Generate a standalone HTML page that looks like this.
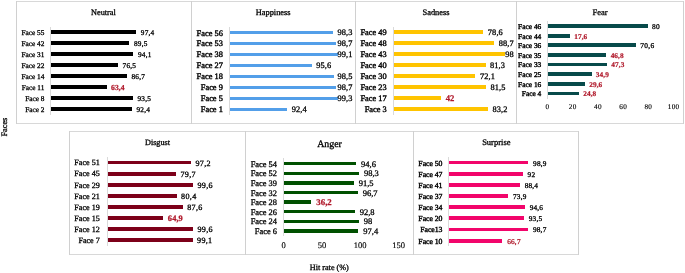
<!DOCTYPE html>
<html><head><meta charset="utf-8"><style>
html,body{margin:0;padding:0;background:#fff;}
body{width:685px;height:273px;position:relative;overflow:hidden;font-family:"Liberation Serif", serif;}
div{position:absolute;}
.t{position:absolute;line-height:1;white-space:nowrap;color:#000;text-rendering:geometricPrecision;}
#w{position:absolute;left:0;top:0;width:685px;height:273px;will-change:transform;}
</style></head><body><div id="w">
<div style="left:16px;top:1px;width:668px;height:1px;background:#d8d8d8"></div>
<div style="left:16px;top:123px;width:668px;height:1px;background:#d8d8d8"></div>
<div style="left:16px;top:1px;width:1px;height:123px;background:#d0d0d0"></div>
<div style="left:191px;top:1px;width:1px;height:123px;background:#d0d0d0"></div>
<div style="left:355px;top:1px;width:1px;height:123px;background:#d0d0d0"></div>
<div style="left:516px;top:1px;width:1px;height:123px;background:#d0d0d0"></div>
<div style="left:683px;top:1px;width:1px;height:123px;background:#d0d0d0"></div>
<div style="left:69px;top:131px;width:510px;height:1px;background:#d8d8d8"></div>
<div style="left:69px;top:254px;width:510px;height:1px;background:#d8d8d8"></div>
<div style="left:69px;top:131px;width:1px;height:124px;background:#d0d0d0"></div>
<div style="left:245px;top:131px;width:1px;height:124px;background:#d0d0d0"></div>
<div style="left:413px;top:131px;width:1px;height:124px;background:#d0d0d0"></div>
<div style="left:578px;top:131px;width:1px;height:124px;background:#d0d0d0"></div>
<span class="t" style="top:9px;font-size:8.25px;-webkit-text-stroke:0.3px #000;left:3.4px;width:200px;text-align:center;">Neutral</span>
<div style="left:50.2px;top:27px;width:1px;height:88px;background:#dadada"></div>
<div style="left:51.2px;top:30.45px;width:85.13px;height:3.7px;background:#000"></div>
<span class="t" style="top:29px;font-size:7.3px;-webkit-text-stroke:0.3px #000;right:640.61px;text-align:right;">Face 55</span>
<span class="t" style="top:29px;font-size:7.3px;letter-spacing:0.23px;-webkit-text-stroke:0.3px #000;left:140.81px;">97,4</span>
<div style="left:51.2px;top:41.42px;width:78.22px;height:3.7px;background:#000"></div>
<span class="t" style="top:40px;font-size:7.3px;-webkit-text-stroke:0.3px #000;right:640.61px;text-align:right;">Face 42</span>
<span class="t" style="top:40px;font-size:7.3px;letter-spacing:0.23px;-webkit-text-stroke:0.3px #000;left:133.9px;">89,5</span>
<div style="left:51.2px;top:52.39px;width:82.24px;height:3.7px;background:#000"></div>
<span class="t" style="top:51px;font-size:7.3px;-webkit-text-stroke:0.3px #000;right:640.61px;text-align:right;">Face 31</span>
<span class="t" style="top:51px;font-size:7.3px;letter-spacing:0.23px;-webkit-text-stroke:0.3px #000;left:137.92px;">94,1</span>
<div style="left:51.2px;top:63.36px;width:66.86px;height:3.7px;background:#000"></div>
<span class="t" style="top:62px;font-size:7.3px;-webkit-text-stroke:0.3px #000;right:640.61px;text-align:right;">Face 22</span>
<span class="t" style="top:62px;font-size:7.3px;letter-spacing:0.23px;-webkit-text-stroke:0.3px #000;left:122.54px;">76,5</span>
<div style="left:51.2px;top:74.33px;width:75.78px;height:3.7px;background:#000"></div>
<span class="t" style="top:73px;font-size:7.3px;-webkit-text-stroke:0.3px #000;right:640.61px;text-align:right;">Face 14</span>
<span class="t" style="top:73px;font-size:7.3px;letter-spacing:0.23px;-webkit-text-stroke:0.3px #000;left:131.46px;">86,7</span>
<div style="left:51.2px;top:85.3px;width:55.41px;height:3.7px;background:#000"></div>
<span class="t" style="top:84px;font-size:7.3px;-webkit-text-stroke:0.3px #000;right:640.61px;text-align:right;">Face 11</span>
<span class="t" style="top:84px;font-size:7.6px;color:#b0192b;font-weight:bold;letter-spacing:0.07px;-webkit-text-stroke:0.25px #b0192b;left:111.08px;">63,4</span>
<div style="left:51.2px;top:96.27px;width:81.72px;height:3.7px;background:#000"></div>
<span class="t" style="top:95px;font-size:7.3px;-webkit-text-stroke:0.3px #000;right:640.61px;text-align:right;">Face 8</span>
<span class="t" style="top:95px;font-size:7.3px;letter-spacing:0.23px;-webkit-text-stroke:0.3px #000;left:137.4px;">93,5</span>
<div style="left:51.2px;top:107.24px;width:80.76px;height:3.7px;background:#000"></div>
<span class="t" style="top:106px;font-size:7.3px;-webkit-text-stroke:0.3px #000;right:640.61px;text-align:right;">Face 2</span>
<span class="t" style="top:106px;font-size:7.3px;letter-spacing:0.23px;-webkit-text-stroke:0.3px #000;left:136.44px;">92,4</span>
<span class="t" style="top:9px;font-size:8.37px;-webkit-text-stroke:0.3px #000;left:173.2px;width:200px;text-align:center;">Happiness</span>
<div style="left:229.2px;top:27px;width:1px;height:88px;background:#dadada"></div>
<div style="left:229.7px;top:30.9px;width:103.3px;height:3.4px;background:#539fe9"></div>
<span class="t" style="top:30px;font-size:8.4px;-webkit-text-stroke:0.4px #000;right:462.16px;text-align:right;">Face 56</span>
<span class="t" style="top:29px;font-size:8.4px;letter-spacing:0.1px;-webkit-text-stroke:0.3px #000;left:337.55px;">98,3</span>
<div style="left:229.7px;top:41.85px;width:106.3px;height:3.4px;background:#539fe9"></div>
<span class="t" style="top:40px;font-size:8.4px;-webkit-text-stroke:0.4px #000;right:462.16px;text-align:right;">Face 53</span>
<span class="t" style="top:40px;font-size:8.4px;letter-spacing:0.1px;-webkit-text-stroke:0.3px #000;left:337.55px;">98,7</span>
<div style="left:229.7px;top:52.8px;width:108.3px;height:3.4px;background:#539fe9"></div>
<span class="t" style="top:51px;font-size:8.4px;-webkit-text-stroke:0.4px #000;right:462.16px;text-align:right;">Face 38</span>
<span class="t" style="top:51px;font-size:8.4px;letter-spacing:0.1px;-webkit-text-stroke:0.3px #000;left:337.55px;">99,1</span>
<div style="left:229.7px;top:63.75px;width:82.3px;height:3.4px;background:#539fe9"></div>
<span class="t" style="top:62px;font-size:8.4px;-webkit-text-stroke:0.4px #000;right:462.16px;text-align:right;">Face 27</span>
<span class="t" style="top:62px;font-size:8.4px;letter-spacing:0.1px;-webkit-text-stroke:0.3px #000;left:316.25px;">95,6</span>
<div style="left:229.7px;top:74.7px;width:104.8px;height:3.4px;background:#539fe9"></div>
<span class="t" style="top:73px;font-size:8.4px;-webkit-text-stroke:0.4px #000;right:462.16px;text-align:right;">Face 18</span>
<span class="t" style="top:73px;font-size:8.4px;letter-spacing:0.1px;-webkit-text-stroke:0.3px #000;left:337.55px;">98,5</span>
<div style="left:229.7px;top:85.65px;width:106.1px;height:3.4px;background:#539fe9"></div>
<span class="t" style="top:84px;font-size:8.4px;-webkit-text-stroke:0.4px #000;right:462.16px;text-align:right;">Face 9</span>
<span class="t" style="top:84px;font-size:8.4px;letter-spacing:0.1px;-webkit-text-stroke:0.3px #000;left:337.55px;">98,7</span>
<div style="left:229.7px;top:96.6px;width:108.3px;height:3.4px;background:#539fe9"></div>
<span class="t" style="top:95px;font-size:8.4px;-webkit-text-stroke:0.4px #000;right:462.16px;text-align:right;">Face 5</span>
<span class="t" style="top:95px;font-size:8.4px;letter-spacing:0.1px;-webkit-text-stroke:0.3px #000;left:337.55px;">99,3</span>
<div style="left:229.7px;top:107.55px;width:57.3px;height:3.4px;background:#539fe9"></div>
<span class="t" style="top:106px;font-size:8.4px;-webkit-text-stroke:0.4px #000;right:462.16px;text-align:right;">Face 1</span>
<span class="t" style="top:106px;font-size:8.4px;letter-spacing:0.1px;-webkit-text-stroke:0.3px #000;left:291.75px;">92,4</span>
<span class="t" style="top:9px;font-size:8.4px;-webkit-text-stroke:0.3px #000;left:336px;width:200px;text-align:center;">Sadness</span>
<div style="left:393.2px;top:27px;width:1px;height:88px;background:#dadada"></div>
<div style="left:393.8px;top:30.45px;width:88.9px;height:3.7px;background:#ffc400"></div>
<span class="t" style="top:29px;font-size:8.35px;-webkit-text-stroke:0.4px #000;right:298.37px;text-align:right;">Face 49</span>
<span class="t" style="top:29px;font-size:8.35px;letter-spacing:0.1px;-webkit-text-stroke:0.3px #000;left:487.85px;">78,6</span>
<div style="left:393.8px;top:41.4px;width:100.6px;height:3.7px;background:#ffc400"></div>
<span class="t" style="top:40px;font-size:8.35px;-webkit-text-stroke:0.4px #000;right:298.37px;text-align:right;">Face 48</span>
<span class="t" style="top:40px;font-size:8.35px;letter-spacing:0.1px;-webkit-text-stroke:0.3px #000;left:498.75px;">88,7</span>
<div style="left:393.8px;top:52.35px;width:111.2px;height:3.7px;background:#ffc400"></div>
<span class="t" style="top:51px;font-size:8.35px;-webkit-text-stroke:0.4px #000;right:298.37px;text-align:right;">Face 43</span>
<span class="t" style="top:51px;font-size:8.35px;letter-spacing:0.1px;-webkit-text-stroke:0.3px #000;left:505.15px;">98</span>
<div style="left:393.8px;top:63.3px;width:92px;height:3.7px;background:#ffc400"></div>
<span class="t" style="top:62px;font-size:8.35px;-webkit-text-stroke:0.4px #000;right:298.37px;text-align:right;">Face 40</span>
<span class="t" style="top:62px;font-size:8.35px;letter-spacing:0.1px;-webkit-text-stroke:0.3px #000;left:490.05px;">81,3</span>
<div style="left:393.8px;top:74.25px;width:81.5px;height:3.7px;background:#ffc400"></div>
<span class="t" style="top:73px;font-size:8.35px;-webkit-text-stroke:0.4px #000;right:298.37px;text-align:right;">Face 30</span>
<span class="t" style="top:73px;font-size:8.35px;letter-spacing:0.1px;-webkit-text-stroke:0.3px #000;left:480.05px;">72,1</span>
<div style="left:393.8px;top:85.2px;width:92.2px;height:3.7px;background:#ffc400"></div>
<span class="t" style="top:84px;font-size:8.35px;-webkit-text-stroke:0.4px #000;right:298.37px;text-align:right;">Face 23</span>
<span class="t" style="top:84px;font-size:8.35px;letter-spacing:0.1px;-webkit-text-stroke:0.3px #000;left:490.55px;">81,5</span>
<div style="left:393.8px;top:96.15px;width:47.2px;height:3.7px;background:#ffc400"></div>
<span class="t" style="top:95px;font-size:8.35px;-webkit-text-stroke:0.4px #000;right:298.37px;text-align:right;">Face 17</span>
<span class="t" style="top:94px;font-size:8.65px;color:#b0192b;font-weight:bold;letter-spacing:0.03px;-webkit-text-stroke:0.25px #b0192b;left:445.74px;">42</span>
<div style="left:393.8px;top:107.1px;width:94.2px;height:3.7px;background:#ffc400"></div>
<span class="t" style="top:106px;font-size:8.35px;-webkit-text-stroke:0.4px #000;right:298.37px;text-align:right;">Face 3</span>
<span class="t" style="top:106px;font-size:8.35px;letter-spacing:0.1px;-webkit-text-stroke:0.3px #000;left:492.55px;">83,2</span>
<span class="t" style="top:8px;font-size:8.45px;-webkit-text-stroke:0.3px #000;left:500.1px;width:200px;text-align:center;">Fear</span>
<div style="left:547.3px;top:21px;width:1px;height:78px;background:#dadada"></div>
<div style="left:548px;top:24.2px;width:99.76px;height:3.7px;background:#074a4a"></div>
<span class="t" style="top:23px;font-size:7.4px;-webkit-text-stroke:0.4px #000;right:143.7px;text-align:right;">Face 46</span>
<span class="t" style="top:23px;font-size:7.4px;letter-spacing:0.3px;-webkit-text-stroke:0.3px #000;left:652.04px;">80</span>
<div style="left:548px;top:33.83px;width:21.95px;height:3.7px;background:#074a4a"></div>
<span class="t" style="top:33px;font-size:7.4px;-webkit-text-stroke:0.4px #000;right:143.7px;text-align:right;">Face 44</span>
<span class="t" style="top:33px;font-size:7.3px;color:#b0192b;font-weight:bold;letter-spacing:0.09px;-webkit-text-stroke:0.2px #b0192b;left:574.23px;">17,6</span>
<div style="left:548px;top:43.46px;width:88.04px;height:3.7px;background:#074a4a"></div>
<span class="t" style="top:42px;font-size:7.4px;-webkit-text-stroke:0.4px #000;right:143.7px;text-align:right;">Face 36</span>
<span class="t" style="top:42px;font-size:7.4px;letter-spacing:0.3px;-webkit-text-stroke:0.3px #000;left:640.32px;">70,6</span>
<div style="left:548px;top:53.09px;width:58.36px;height:3.7px;background:#074a4a"></div>
<span class="t" style="top:52px;font-size:7.4px;-webkit-text-stroke:0.4px #000;right:143.7px;text-align:right;">Face 35</span>
<span class="t" style="top:52px;font-size:7.3px;color:#b0192b;font-weight:bold;letter-spacing:0.09px;-webkit-text-stroke:0.2px #b0192b;left:610.64px;">46,8</span>
<div style="left:548px;top:62.72px;width:58.98px;height:3.7px;background:#074a4a"></div>
<span class="t" style="top:61px;font-size:7.4px;-webkit-text-stroke:0.4px #000;right:143.7px;text-align:right;">Face 33</span>
<span class="t" style="top:61px;font-size:7.3px;color:#b0192b;font-weight:bold;letter-spacing:0.09px;-webkit-text-stroke:0.2px #b0192b;left:611.26px;">47,3</span>
<div style="left:548px;top:72.35px;width:43.52px;height:3.7px;background:#074a4a"></div>
<span class="t" style="top:71px;font-size:7.4px;-webkit-text-stroke:0.4px #000;right:143.7px;text-align:right;">Face 25</span>
<span class="t" style="top:71px;font-size:7.3px;color:#b0192b;font-weight:bold;letter-spacing:0.09px;-webkit-text-stroke:0.2px #b0192b;left:595.8px;">34,9</span>
<div style="left:548px;top:81.98px;width:36.91px;height:3.7px;background:#074a4a"></div>
<span class="t" style="top:81px;font-size:7.4px;-webkit-text-stroke:0.4px #000;right:143.7px;text-align:right;">Face 16</span>
<span class="t" style="top:81px;font-size:7.3px;color:#b0192b;font-weight:bold;letter-spacing:0.09px;-webkit-text-stroke:0.2px #b0192b;left:589.19px;">29,6</span>
<div style="left:548px;top:91.61px;width:30.93px;height:3.7px;background:#074a4a"></div>
<span class="t" style="top:90px;font-size:7.4px;-webkit-text-stroke:0.4px #000;right:143.7px;text-align:right;">Face 4</span>
<span class="t" style="top:90px;font-size:7.3px;color:#b0192b;font-weight:bold;letter-spacing:0.09px;-webkit-text-stroke:0.2px #b0192b;left:583.21px;">24,8</span>
<span class="t" style="top:104px;font-size:7.2px;letter-spacing:0.35px;-webkit-text-stroke:0.15px #000;left:447.57px;width:200px;text-align:center;">0</span>
<span class="t" style="top:104px;font-size:7.2px;letter-spacing:0.35px;-webkit-text-stroke:0.15px #000;left:472.78px;width:200px;text-align:center;">20</span>
<span class="t" style="top:104px;font-size:7.2px;letter-spacing:0.35px;-webkit-text-stroke:0.15px #000;left:498.07px;width:200px;text-align:center;">40</span>
<span class="t" style="top:104px;font-size:7.2px;letter-spacing:0.35px;-webkit-text-stroke:0.15px #000;left:523.17px;width:200px;text-align:center;">60</span>
<span class="t" style="top:104px;font-size:7.2px;letter-spacing:0.35px;-webkit-text-stroke:0.15px #000;left:548.38px;width:200px;text-align:center;">80</span>
<span class="t" style="top:104px;font-size:7.2px;letter-spacing:0.35px;-webkit-text-stroke:0.15px #000;left:573.67px;width:200px;text-align:center;">100</span>
<span class="t" style="top:139px;font-size:8.2px;-webkit-text-stroke:0.3px #000;left:57.5px;width:200px;text-align:center;">Disgust</span>
<div style="left:107.3px;top:157px;width:1px;height:89px;background:#dadada"></div>
<div style="left:107.9px;top:160.75px;width:83.01px;height:3.7px;background:#7d0019"></div>
<span class="t" style="top:159px;font-size:8.1px;-webkit-text-stroke:0.3px #000;right:585.28px;text-align:right;">Face 51</span>
<span class="t" style="top:160px;font-size:8.1px;letter-spacing:0.3px;-webkit-text-stroke:0.3px #000;left:195.47px;">97,2</span>
<div style="left:107.9px;top:171.85px;width:68.06px;height:3.7px;background:#7d0019"></div>
<span class="t" style="top:170px;font-size:8.1px;-webkit-text-stroke:0.3px #000;right:585.28px;text-align:right;">Face 45</span>
<span class="t" style="top:171px;font-size:8.1px;letter-spacing:0.3px;-webkit-text-stroke:0.3px #000;left:180.52px;">79,7</span>
<div style="left:107.9px;top:182.95px;width:85.06px;height:3.7px;background:#7d0019"></div>
<span class="t" style="top:182px;font-size:8.1px;-webkit-text-stroke:0.3px #000;right:585.28px;text-align:right;">Face 29</span>
<span class="t" style="top:182px;font-size:8.1px;letter-spacing:0.3px;-webkit-text-stroke:0.3px #000;left:197.52px;">99,6</span>
<div style="left:107.9px;top:194.05px;width:68.66px;height:3.7px;background:#7d0019"></div>
<span class="t" style="top:193px;font-size:8.1px;-webkit-text-stroke:0.3px #000;right:585.28px;text-align:right;">Face 21</span>
<span class="t" style="top:193px;font-size:8.1px;letter-spacing:0.3px;-webkit-text-stroke:0.3px #000;left:181.12px;">80,4</span>
<div style="left:107.9px;top:205.15px;width:74.81px;height:3.7px;background:#7d0019"></div>
<span class="t" style="top:204px;font-size:8.1px;-webkit-text-stroke:0.3px #000;right:585.28px;text-align:right;">Face 19</span>
<span class="t" style="top:204px;font-size:8.1px;letter-spacing:0.3px;-webkit-text-stroke:0.3px #000;left:187.27px;">87,6</span>
<div style="left:107.9px;top:216.25px;width:55.42px;height:3.7px;background:#7d0019"></div>
<span class="t" style="top:215px;font-size:8.1px;-webkit-text-stroke:0.3px #000;right:585.28px;text-align:right;">Face 15</span>
<span class="t" style="top:215px;font-size:8.4px;color:#b0192b;font-weight:bold;letter-spacing:0.09px;-webkit-text-stroke:0.25px #b0192b;left:167.87px;">64,9</span>
<div style="left:107.9px;top:227.35px;width:85.06px;height:3.7px;background:#7d0019"></div>
<span class="t" style="top:226px;font-size:8.1px;-webkit-text-stroke:0.3px #000;right:585.28px;text-align:right;">Face 12</span>
<span class="t" style="top:226px;font-size:8.1px;letter-spacing:0.3px;-webkit-text-stroke:0.3px #000;left:197.52px;">99,6</span>
<div style="left:107.9px;top:238.45px;width:84.63px;height:3.7px;background:#7d0019"></div>
<span class="t" style="top:237px;font-size:8.1px;-webkit-text-stroke:0.3px #000;right:585.28px;text-align:right;">Face 7</span>
<span class="t" style="top:237px;font-size:8.1px;letter-spacing:0.3px;-webkit-text-stroke:0.3px #000;left:197.09px;">99,1</span>
<span class="t" style="top:140px;font-size:9.9px;-webkit-text-stroke:0.3px #000;left:229.5px;width:200px;text-align:center;">Anger</span>
<div style="left:283.1px;top:158px;width:1px;height:78px;background:#dadada"></div>
<div style="left:283.7px;top:161.95px;width:72.46px;height:3.5px;background:#005000"></div>
<span class="t" style="top:161px;font-size:8.4px;-webkit-text-stroke:0.3px #000;right:408.06px;text-align:right;">Face 54</span>
<span class="t" style="top:160px;font-size:8.5px;-webkit-text-stroke:0.3px #000;left:361.11px;">94,6</span>
<div style="left:283.7px;top:171.55px;width:75.3px;height:3.5px;background:#005000"></div>
<span class="t" style="top:170px;font-size:8.4px;-webkit-text-stroke:0.3px #000;right:408.06px;text-align:right;">Face 52</span>
<span class="t" style="top:169px;font-size:8.5px;-webkit-text-stroke:0.3px #000;left:363.94px;">98,3</span>
<div style="left:283.7px;top:181.15px;width:70.09px;height:3.5px;background:#005000"></div>
<span class="t" style="top:180px;font-size:8.4px;-webkit-text-stroke:0.3px #000;right:408.06px;text-align:right;">Face 39</span>
<span class="t" style="top:179px;font-size:8.5px;-webkit-text-stroke:0.3px #000;left:358.73px;">91,5</span>
<div style="left:283.7px;top:190.75px;width:74.07px;height:3.5px;background:#005000"></div>
<span class="t" style="top:190px;font-size:8.4px;-webkit-text-stroke:0.3px #000;right:408.06px;text-align:right;">Face 32</span>
<span class="t" style="top:189px;font-size:8.5px;-webkit-text-stroke:0.3px #000;left:362.72px;">96,7</span>
<div style="left:283.7px;top:200.35px;width:27.73px;height:3.5px;background:#005000"></div>
<span class="t" style="top:199px;font-size:8.4px;-webkit-text-stroke:0.3px #000;right:408.06px;text-align:right;">Face 28</span>
<span class="t" style="top:198px;font-size:8.8px;color:#b0192b;font-weight:bold;-webkit-text-stroke:0.25px #b0192b;left:316.37px;">36,2</span>
<div style="left:283.7px;top:209.95px;width:71.08px;height:3.5px;background:#005000"></div>
<span class="t" style="top:209px;font-size:8.4px;-webkit-text-stroke:0.3px #000;right:408.06px;text-align:right;">Face 26</span>
<span class="t" style="top:208px;font-size:8.5px;-webkit-text-stroke:0.3px #000;left:359.73px;">92,8</span>
<div style="left:283.7px;top:219.55px;width:75.07px;height:3.5px;background:#005000"></div>
<span class="t" style="top:218px;font-size:8.4px;-webkit-text-stroke:0.3px #000;right:408.06px;text-align:right;">Face 24</span>
<span class="t" style="top:217px;font-size:8.5px;-webkit-text-stroke:0.3px #000;left:363.71px;">98</span>
<div style="left:283.7px;top:229.15px;width:74.61px;height:3.5px;background:#005000"></div>
<span class="t" style="top:228px;font-size:8.4px;-webkit-text-stroke:0.3px #000;right:408.06px;text-align:right;">Face 6</span>
<span class="t" style="top:227px;font-size:8.5px;-webkit-text-stroke:0.3px #000;left:363.25px;">97,4</span>
<span class="t" style="top:241px;font-size:8.5px;-webkit-text-stroke:0.15px #000;left:183.6px;width:200px;text-align:center;">0</span>
<span class="t" style="top:241px;font-size:8.5px;-webkit-text-stroke:0.15px #000;left:221.9px;width:200px;text-align:center;">50</span>
<span class="t" style="top:241px;font-size:8.5px;-webkit-text-stroke:0.15px #000;left:260.2px;width:200px;text-align:center;">100</span>
<span class="t" style="top:241px;font-size:8.5px;-webkit-text-stroke:0.15px #000;left:298.5px;width:200px;text-align:center;">150</span>
<span class="t" style="top:138px;font-size:8.5px;-webkit-text-stroke:0.3px #000;left:396.3px;width:200px;text-align:center;">Surprise</span>
<div style="left:448.2px;top:157px;width:1px;height:89px;background:#dadada"></div>
<div style="left:448.6px;top:160.7px;width:79.61px;height:3.8px;background:#f2056b"></div>
<span class="t" style="top:160px;font-size:7.8px;letter-spacing:-0.05px;-webkit-text-stroke:0.4px #000;right:242.54px;text-align:right;">Face 50</span>
<span class="t" style="top:160px;font-size:7.3px;letter-spacing:0.2px;-webkit-text-stroke:0.3px #000;left:533.1px;">98,9</span>
<div style="left:448.6px;top:171.85px;width:74.06px;height:3.8px;background:#f2056b"></div>
<span class="t" style="top:171px;font-size:7.8px;letter-spacing:-0.05px;-webkit-text-stroke:0.4px #000;right:242.54px;text-align:right;">Face 47</span>
<span class="t" style="top:171px;font-size:7.3px;letter-spacing:0.2px;-webkit-text-stroke:0.3px #000;left:527.54px;">92</span>
<div style="left:448.6px;top:183px;width:71.16px;height:3.8px;background:#f2056b"></div>
<span class="t" style="top:182px;font-size:7.8px;letter-spacing:-0.05px;-webkit-text-stroke:0.4px #000;right:242.54px;text-align:right;">Face 41</span>
<span class="t" style="top:182px;font-size:7.3px;letter-spacing:0.2px;-webkit-text-stroke:0.3px #000;left:524.64px;">88,4</span>
<div style="left:448.6px;top:194.15px;width:59.49px;height:3.8px;background:#f2056b"></div>
<span class="t" style="top:193px;font-size:7.8px;letter-spacing:-0.05px;-webkit-text-stroke:0.4px #000;right:242.54px;text-align:right;">Face 37</span>
<span class="t" style="top:193px;font-size:7.3px;letter-spacing:0.2px;-webkit-text-stroke:0.3px #000;left:512.97px;">73,9</span>
<div style="left:448.6px;top:205.3px;width:76.15px;height:3.8px;background:#f2056b"></div>
<span class="t" style="top:204px;font-size:7.8px;letter-spacing:-0.05px;-webkit-text-stroke:0.4px #000;right:242.54px;text-align:right;">Face 34</span>
<span class="t" style="top:204px;font-size:7.3px;letter-spacing:0.2px;-webkit-text-stroke:0.3px #000;left:529.63px;">94,6</span>
<div style="left:448.6px;top:216.45px;width:75.27px;height:3.8px;background:#f2056b"></div>
<span class="t" style="top:215px;font-size:7.8px;letter-spacing:-0.05px;-webkit-text-stroke:0.4px #000;right:242.54px;text-align:right;">Face 20</span>
<span class="t" style="top:215px;font-size:7.3px;letter-spacing:0.2px;-webkit-text-stroke:0.3px #000;left:528.75px;">93,5</span>
<div style="left:448.6px;top:227.6px;width:79.45px;height:3.8px;background:#f2056b"></div>
<span class="t" style="top:226px;font-size:7.8px;letter-spacing:-0.05px;-webkit-text-stroke:0.4px #000;right:242.54px;text-align:right;">Face13</span>
<span class="t" style="top:226px;font-size:7.3px;letter-spacing:0.2px;-webkit-text-stroke:0.3px #000;left:532.93px;">98,7</span>
<div style="left:448.6px;top:238.75px;width:53.69px;height:3.8px;background:#f2056b"></div>
<span class="t" style="top:238px;font-size:7.8px;letter-spacing:-0.05px;-webkit-text-stroke:0.4px #000;right:242.54px;text-align:right;">Face 10</span>
<span class="t" style="top:238px;font-size:7.3px;color:#b0192b;letter-spacing:0.2px;-webkit-text-stroke:0.3px #b0192b;left:507.17px;">66,7</span>
<span class="t" style="top:264px;font-size:8.2px;-webkit-text-stroke:0.3px #000;left:229.3px;width:200px;text-align:center;">Hit rate (%)</span>
<span class="t" style="left:-4.9px;top:122.6px;font-size:8.3px;transform:rotate(-90deg);width:20px;text-align:center;-webkit-text-stroke:0.3px #000;">Faces</span>
</div></body></html>
